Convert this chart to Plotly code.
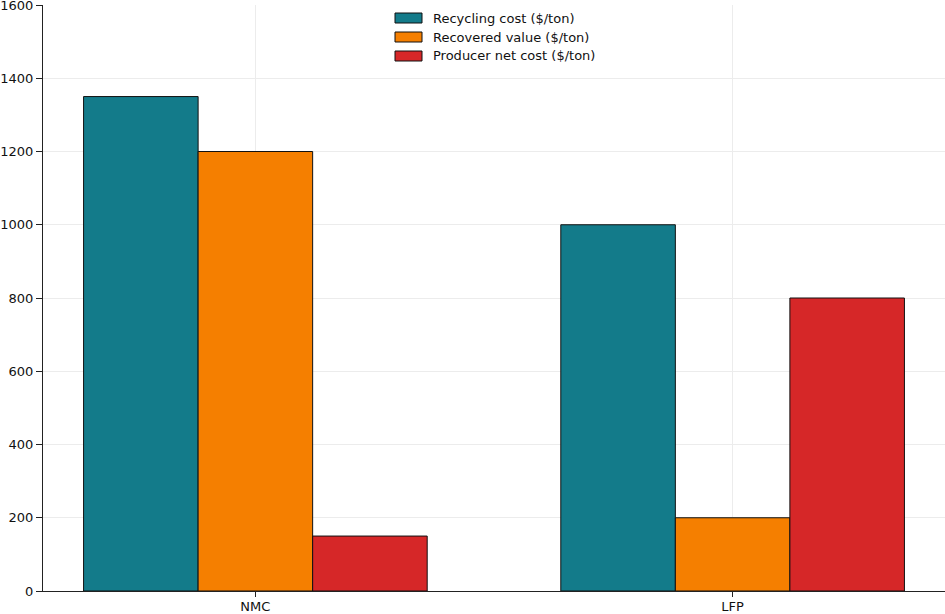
import plotly.graph_objects as go

categories = ["NMC", "LFP"]
recycling_cost = [1350, 1000]
recovered_value = [1200, 200]
producer_net_cost = [150, 800]

series = [
    ("Recycling cost ($/ton)", recycling_cost, "#137b8a"),
    ("Recovered value ($/ton)", recovered_value, "#f57f00"),
    ("Producer net cost ($/ton)", producer_net_cost, "#d62728"),
]

W, H = 945, 614
ML, MR, MT, MB = 43, 0, 5, 23
PW, PH = W - ML - MR, H - MT - MB

def px_x(x):
    return (x - ML) / PW

def px_y(y):
    return (H - MB - y) / PH

fig = go.Figure()
shapes, annotations = [], []
for i, (name, vals, color) in enumerate(series):
    fig.add_trace(go.Bar(
        x=categories, y=vals, name=name, showlegend=False,
        marker=dict(color=color, line=dict(color="#111111", width=1)),
    ))
    cy = 18 + 19 * i
    shapes.append(dict(type="rect", xref="paper", yref="paper",
                       x0=px_x(395), x1=px_x(422), y0=px_y(cy + 5), y1=px_y(cy - 5),
                       fillcolor=color, line=dict(color="#111111", width=1)))
    annotations.append(dict(xref="paper", yref="paper", x=px_x(431), y=px_y(cy),
                            xanchor="left", yanchor="middle", text=name, showarrow=False,
                            font=dict(size=13, color="#111111")))

fig.update_layout(
    width=W, height=H,
    margin=dict(l=ML, r=MR, t=MT, b=MB, autoexpand=False),
    paper_bgcolor="white", plot_bgcolor="white",
    font=dict(family="DejaVu Sans", size=13, color="#111111"),
    barmode="group", bargap=0.28, bargroupgap=0,
    shapes=shapes, annotations=annotations,
    xaxis=dict(range=[-0.445, 1.445], showline=True, linecolor="#222222", linewidth=1.2,
               ticks="outside", ticklen=5, tickcolor="#222222", automargin=False,
               ticklabelstandoff=-2,
               showgrid=True, gridcolor="#ececec", gridwidth=1, zeroline=False),
    yaxis=dict(range=[0, 1600], dtick=200, showline=True, linecolor="#222222", linewidth=1.2,
               ticks="outside", ticklen=6, tickcolor="#222222", ticklabeloverflow="allow",
               automargin=False,
               showgrid=True, gridcolor="#ececec", gridwidth=1, zeroline=False),
)

fig.write_html("out.html")
